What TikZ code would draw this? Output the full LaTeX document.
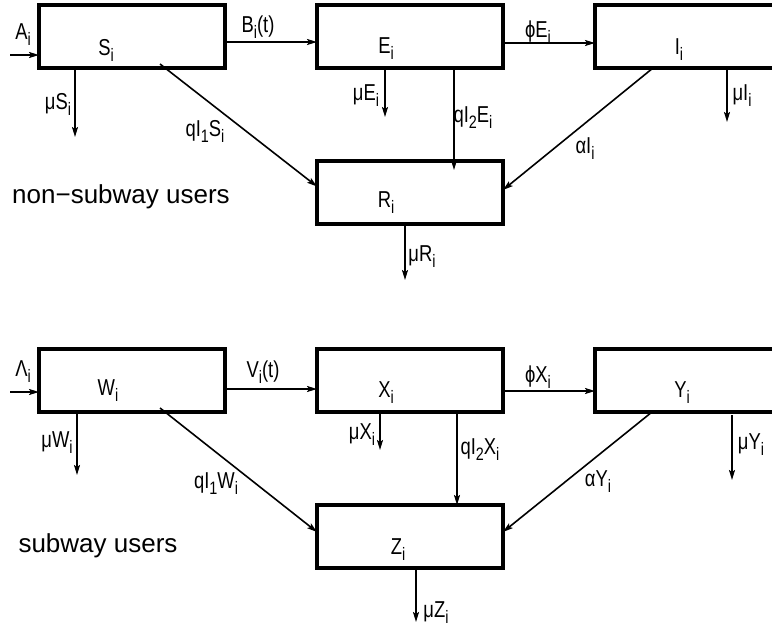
\documentclass[tikz,border=0pt]{standalone}
\usepackage{fontspec}
\setmainfont{Liberation Sans}
\newfontfamily\narrowsans{Liberation Sans}[FakeStretch=0.8]
\usetikzlibrary{positioning,arrows.meta}
\newcommand{\lowidx}[1]{\raisebox{-6pt}{\fontsize{18}{18}\selectfont #1}}
\tikzset{
  comp box/.style={
    draw,
    line width=3.5pt,
    outer sep=0pt,
    inner sep=0pt,
    minimum width={#1pt},
    minimum height=63pt,
  },
  comp box/.default=186,
  rate/.style={
    font=\narrowsans\fontsize{23}{23}\selectfont,
    inner sep=0pt,
  },
  group label/.style={
    font=\fontsize{26}{26}\selectfont,
    inner sep=0pt,
    anchor=base,
  },
  flow/.style={
    line width=1.6pt,
    -{Stealth[length=10pt,width=6pt,inset=2pt]},
  },
}

\begin{document}
\begin{tikzpicture}[x=1pt, y=-1pt, node distance=92pt]
        \useasboundingbox (0,0) rectangle (772,629);

        \node [comp box] (S) at (132,36.5) {};
        \node [comp box, right=of S] (E) {};
        \node [comp box=214, right=of E] (I) {};
        \node [comp box, below=93pt of E] (R) {};

        \node [rate] (S-name) at (106,50) {S\lowidx{i}};
        \node [rate] (E-name) at (386,49) {E\lowidx{i}};
        \node [rate] (I-name) at (679,50) {I\lowidx{i}};
        \node [rate] (R-name) at (386,203) {R\lowidx{i}};

        \coordinate (S-in) at (10,55);
        \coordinate (S-out) at (75,137);
        \coordinate (E-out) at (385,117);
        \coordinate (I-out) at (727,122);
        \coordinate (R-out) at (405,280);

        \draw [flow] (S-in) -- (S.west |- S-in);
        \draw [flow] ([yshift=-5.5pt]S.east) -- ([yshift=-5.5pt]E.west);
        \draw [flow] ([yshift=-6.5pt]E.east) -- ([yshift=-6.5pt]I.west);
        \draw [flow] (S.south -| S-out) -- (S-out);
        \draw [flow] ([xshift=28pt,yshift=4pt]S.south) -- ([yshift=6pt]R.west);
        \draw [flow] (E.south -| E-out) -- (E-out);
        \draw [flow] ([xshift=44pt]E.south) -- ([xshift=44pt,yshift=-9pt]R.north);
        \draw [flow] (I.south -| I-out) -- (I-out);
        \draw [flow] ([xshift=-49pt]I.south) -- ([yshift=2.5pt]R.east);
        \draw [flow] (R.south -| R-out) -- (R-out);

        \node [rate] (A-lab) at (23,35) {A\lowidx{i}};
        \node [rate] (B-lab) at (258,27) {B\lowidx{i}(t)};
        \node [rate] (muS-lab) at (58,104) {μS\lowidx{i}};
        \node [rate] (qS-lab) at (205,131) {qI\lowidx{1}S\lowidx{i}};
        \node [rate] (phiE-lab) at (538,32) {ϕE\lowidx{i}};
        \node [rate] (muE-lab) at (366,96) {μE\lowidx{i}};
        \node [rate] (qE-lab) at (473,118) {qI\lowidx{2}E\lowidx{i}};
        \node [rate] (muI-lab) at (742,96) {μI\lowidx{i}};
        \node [rate] (alphaI-lab) at (585,149) {αI\lowidx{i}};
        \node [rate] (muR-lab) at (422,257) {μR\lowidx{i}};
        \node [group label] (top-group) at (121,203) {non−subway users};

        \node [comp box] (W) at (132,380.5) {};
        \node [comp box, right=of W] (X) {};
        \node [comp box=214, right=of X] (Y) {};
        \node [comp box, below=93pt of X] (Z) {};

        \node [rate] (W-name) at (108,391) {W\lowidx{i}};
        \node [rate] (X-name) at (386,393) {X\lowidx{i}};
        \node [rate] (Y-name) at (682,393) {Y\lowidx{i}};
        \node [rate] (Z-name) at (398,550) {Z\lowidx{i}};

        \coordinate (W-in) at (10,392);
        \coordinate (W-out) at (77,475);
        \coordinate (X-out) at (380,450);
        \coordinate (Y-out) at (732,480);
        \coordinate (Z-out) at (416,622);

        \draw [flow] (W-in) -- (W.west |- W-in);
        \draw [flow] ([yshift=-8.5pt]W.east) -- ([yshift=-8.5pt]X.west);
        \draw [flow] ([yshift=-10.5pt]X.east) -- ([yshift=-10.5pt]Y.west);
        \draw [flow] (W.south -| W-out) -- (W-out);
        \draw [flow] ([xshift=28pt,yshift=4pt]W.south) -- ([yshift=4.5pt]Z.west);
        \draw [flow] (X.south -| X-out) -- (X-out);
        \draw [flow] ([xshift=47pt]X.south) -- ([xshift=47pt]Z.north);
        \draw [flow] ([yshift=-3pt]Y.south -| Y-out) -- (Y-out);
        \draw [flow] ([xshift=-50pt]Y.south) -- ([yshift=4.5pt]Z.east);
        \draw [flow] (Z.south -| Z-out) -- (Z-out);

        \node [rate] (Lambda-lab) at (23,372) {Λ\lowidx{i}};
        \node [rate] (V-lab) at (263,372) {V\lowidx{i}(t)};
        \node [rate] (muW-lab) at (57,443) {μW\lowidx{i}};
        \node [rate] (qW-lab) at (216,484) {qI\lowidx{1}W\lowidx{i}};
        \node [rate] (phiX-lab) at (538,377) {ϕX\lowidx{i}};
        \node [rate] (muX-lab) at (362,435) {μX\lowidx{i}};
        \node [rate] (qX-lab) at (480,450) {qI\lowidx{2}X\lowidx{i}};
        \node [rate] (muY-lab) at (751,445) {μY\lowidx{i}};
        \node [rate] (alphaY-lab) at (598,482) {αY\lowidx{i}};
        \node [rate] (muZ-lab) at (436,613) {μZ\lowidx{i}};
        \node [group label] (bottom-group) at (98,552) {subway users};
      \end{tikzpicture}
\end{document}
